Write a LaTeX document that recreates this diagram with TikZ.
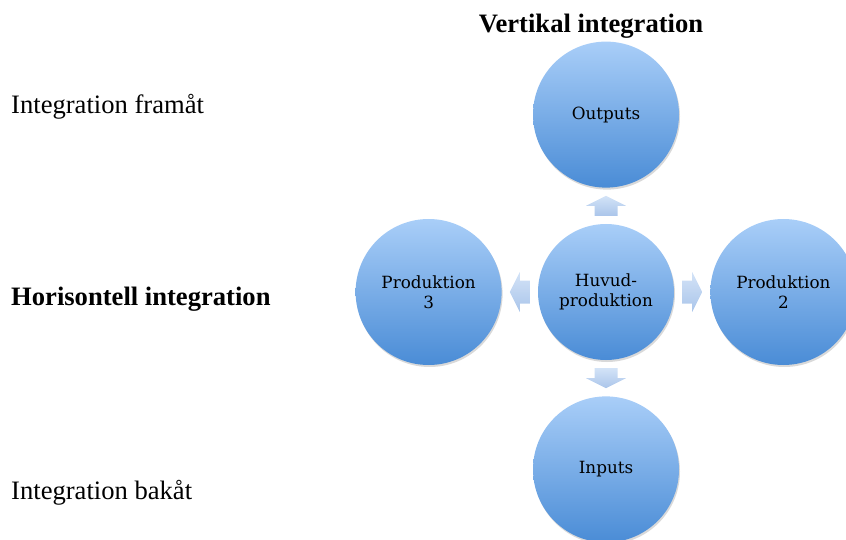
\documentclass[tikz,border=0pt]{standalone}
\usepackage{fontspec}
\setmainfont{Liberation Serif}
\newfontfamily\bubblefont{DejaVu Serif}
\usetikzlibrary{positioning,calc,shadows}

\definecolor{bubbletop}{HTML}{A9CEF8}
\definecolor{bubblebot}{HTML}{4A8CD6}
\definecolor{arrowtop}{HTML}{D3E3F7}
\definecolor{arrowbot}{HTML}{AAC5EA}

\tikzset{
  bubble/.style={circle, minimum size=146pt, inner sep=0pt, align=center,
    top color=bubbletop, bottom color=bubblebot,
    drop shadow={shadow xshift=1pt, shadow yshift=-2pt, opacity=0.25, fill=black!60},
    font=\bubblefont\fontsize{16.8}{20}\selectfont},
  hubbubble/.style={bubble, minimum size=136pt},
  sidetext/.style={anchor=base west, inner sep=0pt, font=\fontsize{26.6}{32}\selectfont},
  arrowfill/.style={top color=arrowtop, bottom color=arrowbot, draw=none}
}

% block arrow half way between two node anchors, #3 = direction
\newcommand{\blockarrow}[3]{%
  \begin{scope}[shift={($(#1)!0.5!(#2)$)}, rotate=#3]
    \path[arrowfill] (-10,-11.5) -- (0,-11.5) -- (0,-20) -- (10,0)
      -- (0,20) -- (0,11.5) -- (-10,11.5) -- cycle;
  \end{scope}}

\begin{document}
\begin{tikzpicture}[x=1pt, y=-1pt, node distance=36pt]
  \useasboundingbox (0,0) rectangle (846,540);

  % the ring of production steps
  \node[hubbubble] (hub) at (606,292) {Huvud-\\produktion};
  \node[bubble, above=of hub] (out) {Outputs};
  \node[bubble, below=of hub] (in) {Inputs};
  \node[bubble, left=of hub] (p3) {Produktion\\3};
  \node[bubble, right=of hub] (p2) {Produktion\\2};

  \blockarrow{hub.north}{out.south}{90}
  \blockarrow{hub.south}{in.north}{-90}
  \blockarrow{hub.west}{p3.east}{180}
  \blockarrow{hub.east}{p2.west}{0}

  % headings
  \node[anchor=base, inner sep=0pt, font=\bfseries\fontsize{26.6}{32}\selectfont]
    (vert) at (591,33) {Vertikal integration};
  \node[sidetext] (fram) at (11,114) {Integration framåt};
  \node[sidetext, font=\bfseries\fontsize{26.6}{32}\selectfont] (hori) at (11,305.5) {Horisontell integration};
  \node[sidetext] (bak) at (11,499) {Integration bakåt};
\end{tikzpicture}
\end{document}
